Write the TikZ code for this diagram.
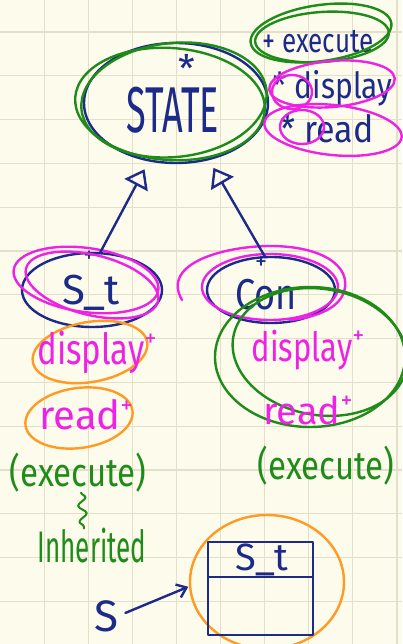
\documentclass[tikz,border=0pt]{standalone}
\usepackage{fontspec}
\usepackage{graphicx}
\setmainfont{Fira Sans}
\usetikzlibrary{shapes.geometric,arrows.meta,decorations.pathmorphing}
\definecolor{paper}{HTML}{FDFBEC}
\definecolor{gridline}{HTML}{E4DFCB}
\definecolor{ink}{HTML}{1C2A8A}
\definecolor{pgreen}{HTML}{1F8C1A}
\definecolor{pmag}{HTML}{EE22E6}
\definecolor{porange}{HTML}{FF9A22}
\newcommand\tallt[2]{\scalebox{1}[#1]{#2}}
\newcommand\fs[1]{\fontsize{#1pt}{#1pt}\selectfont}
\begin{document}
\begin{tikzpicture}[x=1pt,y=-1pt,
  every node/.style={inner sep=0pt,outer sep=0pt},
  hw/.style={line width=2.4pt,line cap=round,line join=round},
  oval/.style={ellipse,hw,inner sep=0pt,outer sep=0pt},
  inh/.style={hw,ink,-{Triangle[open,length=18pt,width=26pt]},shorten >=10pt}]
% paper and grid
\fill[paper] (0,0) rectangle (402,644);
\useasboundingbox (0,0) rectangle (402,644);
\foreach \k in {1,...,9}
  \draw[gridline,line width=1.2pt] ({44.1*\k},0) -- ({44.1*\k},644);
\foreach \k in {0,...,14}
  \draw[gridline,line width=1.2pt] (0,{32+43.8*\k}) -- (402,{32+43.8*\k});

% STATE
\node[oval,draw=ink,minimum width=184pt,minimum height=120pt] (state) at (176,103) {};
\draw[hw,pgreen,rotate around={6:(174,100)}] (174,100) ellipse [x radius=93,y radius=57];
\draw[hw,pgreen,rotate around={-4:(170,104)}] (170,104) ellipse [x radius=95,y radius=56];
\node[text=ink] (statetxt) at (173,110) {\fs{36}\tallt{1.8}{STATE}};
\node[text=ink] (star) at (187,68) {\fs{38}*};

% operations
\node[text=ink] (exe) at (318,42) {\fs{26}\tallt{1.3}{+ execute}};
\draw[hw,pgreen,rotate around={8:(321,33)}] (321,33) ellipse [x radius=71,y radius=28];
\draw[hw,pgreen,rotate around={4:(322,37)}] (322,37) ellipse [x radius=67,y radius=25];
\node[text=ink] (disp) at (333,88) {\fs{30}\tallt{1.2}{* display}};
\node[text=ink] (rd) at (327,129) {\fs{34}\tallt{1.1}{* read}};
\draw[hw,pmag,rotate around={5:(332,84)}] (332,84) ellipse [x radius=63,y radius=23];
\draw[hw,pmag,rotate around={-6:(333,130)}] (333,130) ellipse [x radius=69,y radius=25];
\draw[hw,pmag] (292,92) ellipse [x radius=20,y radius=17];
\draw[hw,pmag] (302,127) ellipse [x radius=22,y radius=17];

% S_t
\node[oval,draw=ink,minimum width=140pt,minimum height=74pt] (st) at (92,290) {};
\node[text=ink] (sttxt) at (91,293) {\fs{42}S\_t};
\node[text=ink] (stplus) at (89,257) {\fs{22}+};
\draw[hw,pmag,rotate around={-8:(86,280)}] (86,280) ellipse [x radius=73,y radius=32];
\draw[hw,pmag,rotate around={-14:(92,285)}] (92,285) ellipse [x radius=68,y radius=30];

% Con
\node[oval,draw=ink,minimum width=128pt,minimum height=66pt] (con) at (271,290) {};
\node[text=ink] (contxt) at (266,295) {\fs{36}\tallt{1.2}{Con}};
\node[text=ink] (conplus) at (261,263) {\fs{24}+};
\draw[hw,pmag] (270,287) ellipse [x radius=68,y radius=33];
\draw[hw,pmag] (182,300) .. controls (160,262) and (228,246) .. (270,246)
  .. controls (322,246) and (352,266) .. (344,292)
  .. controls (338,310) and (312,318) .. (290,320);

% inheritance
\draw[inh] (st.78) -- (state.245);
\draw[inh] (con.100) -- (state.300);

% inherited members of Con
\draw[hw,pgreen] (310,357) ellipse [x radius=95,y radius=70];
\draw[hw,pgreen,rotate around={-10:(320,352)}] (320,352) ellipse [x radius=88,y radius=63];
\node[text=pmag] (rdisp) at (308,350) {\fs{31}\tallt{1.3}{display}\raisebox{18pt}{\fs{24}+}};
\node[text=pmag] (rread) at (308,410) {\fs{38}read\raisebox{16pt}{\fs{24}+}};
\node[text=pgreen] (rexec) at (326,466) {\fs{33}\tallt{1.2}{(execute)}};

% inherited members of S_t
\draw[hw,porange,rotate around={10:(90,352)}] (90,352) ellipse [x radius=58,y radius=30];
\draw[hw,porange,rotate around={8:(79,418)}] (79,418) ellipse [x radius=54,y radius=30];
\node[text=pmag] (ldisp) at (97,352) {\fs{33}\tallt{1.3}{display}\raisebox{18pt}{\fs{24}+}};
\node[text=pmag] (lread) at (86,415) {\fs{40}read\raisebox{16pt}{\fs{24}+}};
\node[text=pgreen] (lexec) at (78,473) {\fs{33}\tallt{1.2}{(execute)}};
\node[text=pgreen] (inhtxt) at (92,546) {\fs{26}\tallt{1.7}{Inherited}};
\draw[hw,pgreen,line width=2pt,decorate,decoration={snake,amplitude=4pt,segment length=16pt}]
  ([xshift=3pt]lexec.south) -- ([xshift=-8pt]inhtxt.north);

% object box
\node[oval,draw=porange,minimum width=154pt,minimum height=134pt] (ring) at (267,582) {};
\node[draw=ink,hw,minimum width=105pt,minimum height=93pt] (box) at (260.5,588.5) {};
\draw[hw,ink] ([yshift=-35pt]box.north west) -- ([yshift=-35pt]box.north east);
\node[text=ink] (boxtxt) at (262,560) {\fs{38}S\_t};
\node[text=ink] (s) at (106,616) {\fs{44}S};
\draw[hw,ink,-{Straight Barb[length=9pt,width=14pt]},shorten <=8pt,shorten >=2pt] (s.east) -- (ring.183);
\end{tikzpicture}
\end{document}
